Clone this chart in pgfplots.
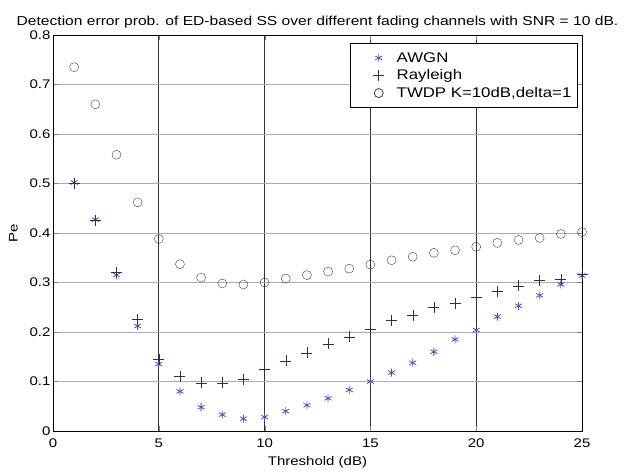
\documentclass[border=0pt]{standalone}
\usepackage{fontspec}
\setmainfont{Liberation Sans}[FakeStretch=1.2]
\usepackage{pgfplots}
\pgfplotsset{compat=1.18}
\usetikzlibrary{calc}
\definecolor{awgn}{RGB}{80,80,175}
\definecolor{ray}{RGB}{45,45,80}
\definecolor{twdp}{RGB}{60,60,60}
\begin{document}
\begin{tikzpicture}
\begin{axis}[
  scale only axis, width=529pt, height=396pt,
  xmin=0, xmax=25, ymin=0, ymax=0.8,
  xtick={0,5,...,25}, ytick={0,0.1,...,0.8},
  yticklabels={0,0.1,0.2,0.3,0.4,0.5,0.6,0.7,0.8},
  tick align=inside, tick pos=both,
  major tick length=5pt,
  xmajorgrids, ymajorgrids,
  x grid style={black!80, line width=0.7pt},
  y grid style={gray!65, line width=0.6pt},
  axis line style={line width=0.9pt},
  /pgf/number format/assume math mode=true,
  ticklabel style={font=\fontsize{12.5}{14}\selectfont},
  xticklabel style={yshift=-4pt},
  yticklabel style={xshift=1pt},
  label style={font=\fontsize{12.5}{14}\selectfont},
  title style={font=\fontsize{13}{15}\selectfont, yshift=-3pt},
  title={Detection error prob. of ED-based SS over different fading channels with SNR = 10 dB.},
  xlabel={Threshold (dB)}, ylabel={Pe},
  xlabel style={yshift=-2pt}, ylabel style={yshift=5pt},
  legend style={at={(0.992,0.98)}, anchor=north east, font=\fontsize{14}{16}\selectfont, draw=black, line width=0.8pt, inner xsep=3pt, inner ysep=7pt, row sep=2pt, nodes={inner xsep=3pt}},
  legend cell align=left,
  legend image code/.code={\path[draw=none] (0pt,0pt) -- (40pt,0pt); \draw[#1] plot coordinates {(25pt,0pt)};},
]
\addplot[only marks, mark=asterisk, mark size=4pt, color=awgn, thick] coordinates {
(1,0.502)(2,0.427)(3,0.315)(4,0.212)(5,0.135)(6,0.080)(7,0.048)(8,0.033)(9,0.025)(10,0.028)
(11,0.040)(12,0.052)(13,0.066)(14,0.083)(15,0.100)(16,0.118)(17,0.138)(18,0.160)(19,0.185)(20,0.204)
(21,0.231)(22,0.253)(23,0.274)(24,0.296)(25,0.314)};
\addlegendentry{AWGN}
\addplot[only marks, mark=+, mark size=5.5pt, color=ray] coordinates {
(1,0.500)(2,0.425)(3,0.320)(4,0.225)(5,0.145)(6,0.110)(7,0.097)(8,0.097)(9,0.105)(10,0.124)
(11,0.142)(12,0.158)(13,0.176)(14,0.190)(15,0.206)(16,0.224)(17,0.234)(18,0.250)(19,0.258)(20,0.271)
(21,0.282)(22,0.293)(23,0.304)(24,0.306)(25,0.317)};
\addlegendentry{Rayleigh}
\addplot[only marks, mark=o, mark size=4.5pt, color=twdp] coordinates {
(1,0.735)(2,0.660)(3,0.558)(4,0.462)(5,0.388)(6,0.337)(7,0.310)(8,0.298)(9,0.296)(10,0.300)
(11,0.308)(12,0.315)(13,0.322)(14,0.328)(15,0.336)(16,0.345)(17,0.352)(18,0.360)(19,0.365)(20,0.372)
(21,0.380)(22,0.386)(23,0.390)(24,0.398)(25,0.402)};
\addlegendentry{TWDP K=10dB,delta=1}
\end{axis}
\useasboundingbox ($(current axis.south west)+(-53pt,-42pt)$) rectangle ($(current axis.north east)+(49pt,35pt)$);
\end{tikzpicture}
\end{document}
